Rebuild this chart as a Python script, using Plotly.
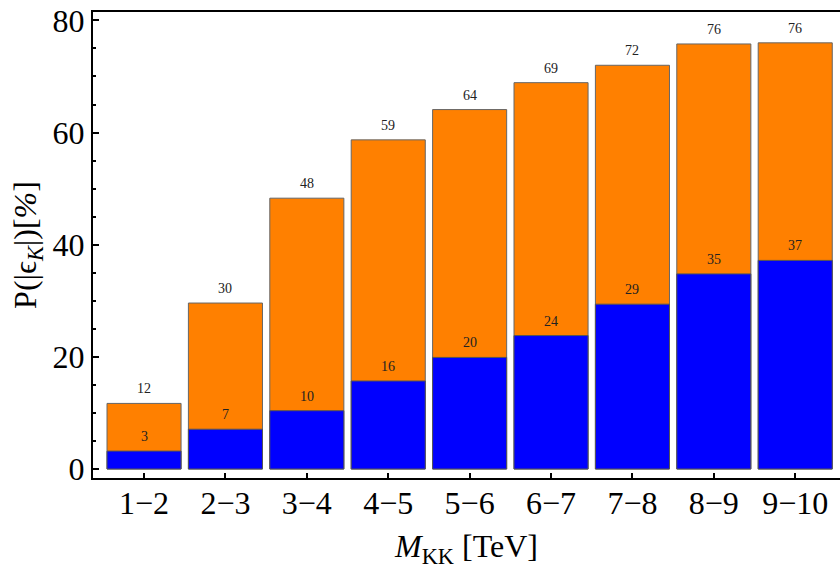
import plotly.graph_objects as go

categories = ["1\u22122", "2\u22123", "3\u22124", "4\u22125", "5\u22126", "6\u22127", "7\u22128", "8\u22129", "9\u221210"]
total_values = [11.7, 29.6, 48.3, 58.7, 64.1, 68.9, 72.0, 75.8, 76.0]
lower_values = [3.2, 7.1, 10.4, 15.7, 19.9, 23.8, 29.4, 34.8, 37.2]
total_labels = ["12", "30", "48", "59", "64", "69", "72", "76", "76"]
lower_labels = ["3", "7", "10", "16", "20", "24", "29", "35", "37"]

xs = list(range(len(categories)))
FONT = "Liberation Serif"

fig = go.Figure()
fig.add_trace(go.Bar(x=xs, y=total_values, marker=dict(color="#FF8000", line=dict(color="#666666", width=1)),
                     hoverinfo="skip"))
fig.add_trace(go.Bar(x=xs, y=lower_values, marker=dict(color="#0000FF", line=dict(color="#555555", width=1)),
                     hoverinfo="skip"))

for x, v, t in zip(xs, total_values, total_labels):
    fig.add_annotation(x=x, y=v, text=t, showarrow=False, yanchor="bottom", yshift=5,
                       font=dict(family=FONT, size=14, color="#222"))
for x, v, t in zip(xs, lower_values, lower_labels):
    fig.add_annotation(x=x, y=v, text=t, showarrow=False, yanchor="bottom", yshift=5,
                       font=dict(family=FONT, size=14, color="#222"))

fig.update_layout(
    width=840, height=570,
    margin=dict(l=93, r=0, t=12, b=92),
    barmode="overlay", bargap=0.09,
    showlegend=False,
    plot_bgcolor="white", paper_bgcolor="white",
    font=dict(family=FONT, size=32, color="black"),
)
fig.update_xaxes(
    range=[-0.627, 8.55], tickvals=xs, ticktext=categories,
    ticks="inside", ticklen=5, tickwidth=2, tickcolor="black",
    showline=True, linecolor="black", linewidth=2, mirror=True,
    showgrid=False, zeroline=False,
    tickfont=dict(family=FONT, size=32),
    ticklabelstandoff=-4,
    title=dict(text="<i>M</i><sub>KK</sub> [TeV]", font=dict(family=FONT, size=32), standoff=14),
)
fig.update_yaxes(
    range=[-1.6, 81.5], tickvals=[0, 20, 40, 60, 80],
    ticks="inside", ticklen=6, tickwidth=2, tickcolor="black",
    minor=dict(dtick=5, ticks="inside", ticklen=3, tickwidth=2, tickcolor="black"),
    showline=True, linecolor="black", linewidth=2,
    showgrid=False, zeroline=False,
    tickfont=dict(family=FONT, size=32),
    title=dict(text="P(|\u03f5<sub><i>K</i></sub>|)[<i>%</i>]", font=dict(family=FONT, size=32), standoff=6),
)

fig.write_html("out.html")
